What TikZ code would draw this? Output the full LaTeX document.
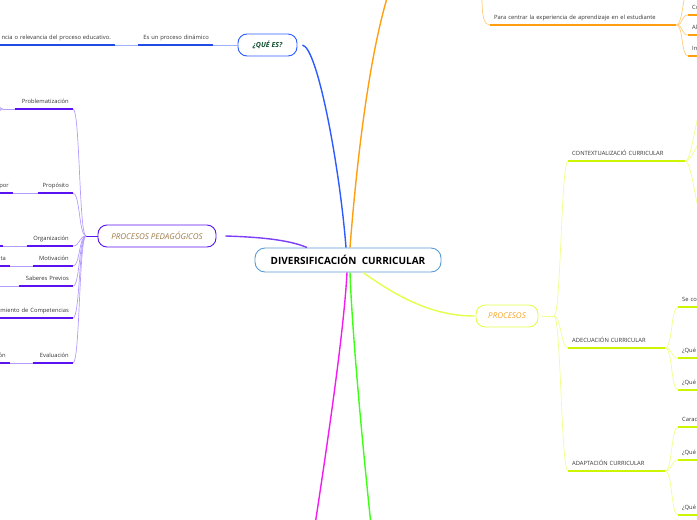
\documentclass[tikz,border=0pt]{standalone}
\usepackage{fontspec}
\setmainfont{Open Sans}

\definecolor{divborder}{HTML}{5B9BD5}
\definecolor{qblue}{HTML}{2D5BFF}
\definecolor{qdark}{HTML}{1F4BE6}
\definecolor{qlight}{HTML}{9DB2FF}
\definecolor{qgreen}{HTML}{0F4D2C}
\definecolor{orangemain}{HTML}{FF9F0F}
\definecolor{olight}{HTML}{FFCC80}
\definecolor{ppline}{HTML}{7B3FF5}
\definecolor{ppdark}{HTML}{5A12F0}
\definecolor{pplight}{HTML}{B49CFF}
\definecolor{ppgold}{HTML}{9C7B45}
\definecolor{prline}{HTML}{E2FF4A}
\definecolor{prdark}{HTML}{CCF500}
\definecolor{prlight}{HTML}{EEFF8A}
\definecolor{prorange}{HTML}{F5A623}
\definecolor{brgreen}{HTML}{3CFF14}
\definecolor{brmagenta}{HTML}{F21BF2}
\definecolor{labelgray}{HTML}{333333}

\begin{document}
\begin{tikzpicture}[x=1pt,y=-1pt,
        main/.style={draw,fill=white,rounded corners=9pt,line width=0.9pt,minimum height=22pt},
        topic/.style={font=\fontsize{5.8}{7}\selectfont,text=labelgray,inner xsep=4pt,inner ysep=0pt,
            text height=4.5pt,text depth=5pt},
        ltopic/.style={topic,text width=#1,align=right,anchor=south east},
        rtopic/.style={topic,text width=#1,align=left,anchor=south west},
        branch/.style={line width=1.4pt},
        uline/.style={line width=1.3pt},
        twig/.style={line width=0.7pt},
        lbr/.style={out=180,in=0,distance=7pt},
        rbr/.style={out=0,in=180,distance=7pt}]

  \useasboundingbox (0,0) rectangle (697,520);
  \clip (0,0) rectangle (697,520);

  \node[main,draw=divborder,minimum width=186pt,minimum height=24pt,rounded corners=10pt,
        font=\bfseries\fontsize{10}{12}\selectfont] (div) at (348,260) {DIVERSIFICACIÓN\ \ CURRICULAR};
  \node[main,draw=qblue,text=qgreen,minimum width=59pt,
        font=\bfseries\itshape\fontsize{7}{8}\selectfont] (que) at (267.5,45) {¿QUÉ ES?};
  \node[main,draw=ppdark,text=ppgold,minimum width=118pt,
        font=\itshape\fontsize{8}{9}\selectfont] (pped) at (157,236) {PROCESOS PEDAGÓGICOS};
  \node[main,draw=prline,text=prorange,minimum width=62pt,
        font=\itshape\fontsize{8}{9}\selectfont] (proc) at (507,316) {PROCESOS};

  \coordinate (otop) at (388,-5);
  \coordinate (gbot) at (371,525);
  \coordinate (mbot) at (315,525);

  \draw[branch,qblue] ([xshift=5pt]que.east) .. controls (318,48) and (340,170) .. ([xshift=-2pt]div.north);
  \draw[branch,orangemain] ([xshift=2pt]div.north) .. controls (356,170) and (368,60) .. (otop);
  \draw[branch,ppline] ([xshift=9pt]pped.east) .. controls (260,237) and (290,240) .. ([xshift=-41pt]div.north);
  \draw[branch,prline] ([xshift=15pt]div.south) .. controls (395,295) and (430,316) .. ([xshift=-1pt]proc.west);
  \draw[branch,brgreen] ([xshift=2pt]div.south) .. controls (352,330) and (362,440) .. (gbot);
  \draw[branch,brmagenta] ([xshift=-1pt]div.south) .. controls (344,330) and (328,440) .. (mbot);

  \node[ltopic=67] (dyn) at (213,45) {Es un proceso dinámico};
  \node[ltopic=117] (rel) at (115,45) {ncia o relevancia del proceso educativo.};

  \draw[twig,qlight] (que.west) edge (dyn.south east)
        (dyn.south west) edge (rel.south east);
  \foreach \n in {dyn,rel}
    \draw[uline,qdark] (\n.south west) -- (\n.south east);

  \coordinate (ppf) at (86,236);
  \node[ltopic=50] (prob) at (73,109) {Problematización};
  \node[ltopic=27] (prop) at (73,193) {Propósito};
  \node[ltopic=38] (org) at (73,246) {Organización};
  \node[ltopic=32] (mot) at (73,266) {Motivación};
  \node[ltopic=46] (sab) at (73,286) {Saberes Previos};
  \node[ltopic=75] (comp) at (73,318) {miento de Competencias};
  \node[ltopic=32] (eval) at (73,363) {Evaluación};
  \node[ltopic=15] (por) at (13,193) {por};
  \node[ltopic=10] (orgl) at (3,246) {};
  \node[ltopic=15] (ta) at (10,266) {ta};
  \node[ltopic=15] (on) at (10,363) {ón};
  \coordinate (probf) at (3,109);
  \coordinate (proba) at (-6,96);
  \coordinate (probb) at (-6,122);
  \coordinate (sabl) at (-6,286);

  \draw[line width=1pt,ppdark] (pped.west) -- (ppf);
  \draw[twig,pplight] (ppf) edge[lbr] (prob.south east)
        (ppf) edge[lbr] (prop.south east)
        (ppf) edge[lbr] (org.south east)
        (ppf) edge[lbr] (mot.south east)
        (ppf) edge[lbr] (sab.south east)
        (ppf) edge[lbr] (comp.south east)
        (ppf) edge[lbr] (eval.south east)
        (prob.south west) edge (probf)
        (probf) edge[lbr] (proba)
        (probf) edge[lbr] (probb)
        (prop.south west) edge (por.south east)
        (org.south west) edge (orgl.south east)
        (mot.south west) edge (ta.south east)
        (sab.south west) edge (sabl)
        (eval.south west) edge (on.south east);
  \foreach \n in {prob,prop,org,mot,sab,comp,eval,por,orgl,ta,on}
    \draw[uline,ppdark] (\n.south west) -- (\n.south east);

  \coordinate (orp) at (482,-5);
  \coordinate (cup) at (690,-15);
  \node[rtopic=178] (cent) at (490,25) {Para centrar la experiencia de aprendizaje en el estudiante};
  \node[rtopic=30] (co) at (688,15) {Co};
  \node[rtopic=30] (al) at (688,35) {Al};
  \node[rtopic=30] (in) at (688,56) {In};

  \draw[twig,olight] (orp) .. controls (482,18) and (484,25) .. (cent.south west);
  \draw[twig,olight] (cent.south east) edge[rbr] (cup)
        (cent.south east) edge[rbr] (co.south west)
        (cent.south east) edge[rbr] (al.south west)
        (cent.south east) edge[rbr] (in.south west);
  \foreach \n in {cent,co,al,in}
    \draw[uline,orangemain] (\n.south west) -- (\n.south east);

  \coordinate (pf) at (554,316);
  \node[rtopic=109] (ctx) at (568,161) {CONTEXTUALIZACIÓ CURRICULAR};
  \node[rtopic=89] (adec) at (568,348) {ADECUACIÓN CURRICULAR};
  \node[rtopic=89] (adap) at (568,471) {ADAPTACIÓN CURRICULAR};
  \coordinate (ctxa) at (705,98);
  \coordinate (ctxb) at (705,138);
  \coordinate (ctxc) at (705,226);
  \node[rtopic=30] (seco) at (678,307) {Se co};
  \node[rtopic=30] (qa) at (678,358) {¿Qué};
  \node[rtopic=30] (qb) at (678,390) {¿Qué};
  \node[rtopic=30] (carac) at (678,427) {Carac};
  \node[rtopic=30] (qc) at (678,460) {¿Qué};
  \node[rtopic=30] (qd) at (678,515) {¿Qué};

  \draw[line width=0.9pt,prlight] ([xshift=4pt]proc.east) -- (pf);
  \draw[twig,prlight] (pf) edge[rbr] (ctx.south west)
        (pf) edge[rbr] (adec.south west)
        (pf) edge[rbr] (adap.south west)
        (ctx.south east) edge[rbr] (ctxa)
        (ctx.south east) edge[rbr] (ctxb)
        (ctx.south east) edge[rbr] (ctxc)
        (adec.south east) edge[rbr] (seco.south west)
        (adec.south east) edge[rbr] (qa.south west)
        (adec.south east) edge[rbr] (qb.south west)
        (adap.south east) edge[rbr] (carac.south west)
        (adap.south east) edge[rbr] (qc.south west)
        (adap.south east) edge[rbr] (qd.south west);
  \foreach \n in {ctx,adec,adap,seco,qa,qb,carac,qc,qd}
    \draw[uline,prdark] (\n.south west) -- (\n.south east);

\end{tikzpicture}
\end{document}
